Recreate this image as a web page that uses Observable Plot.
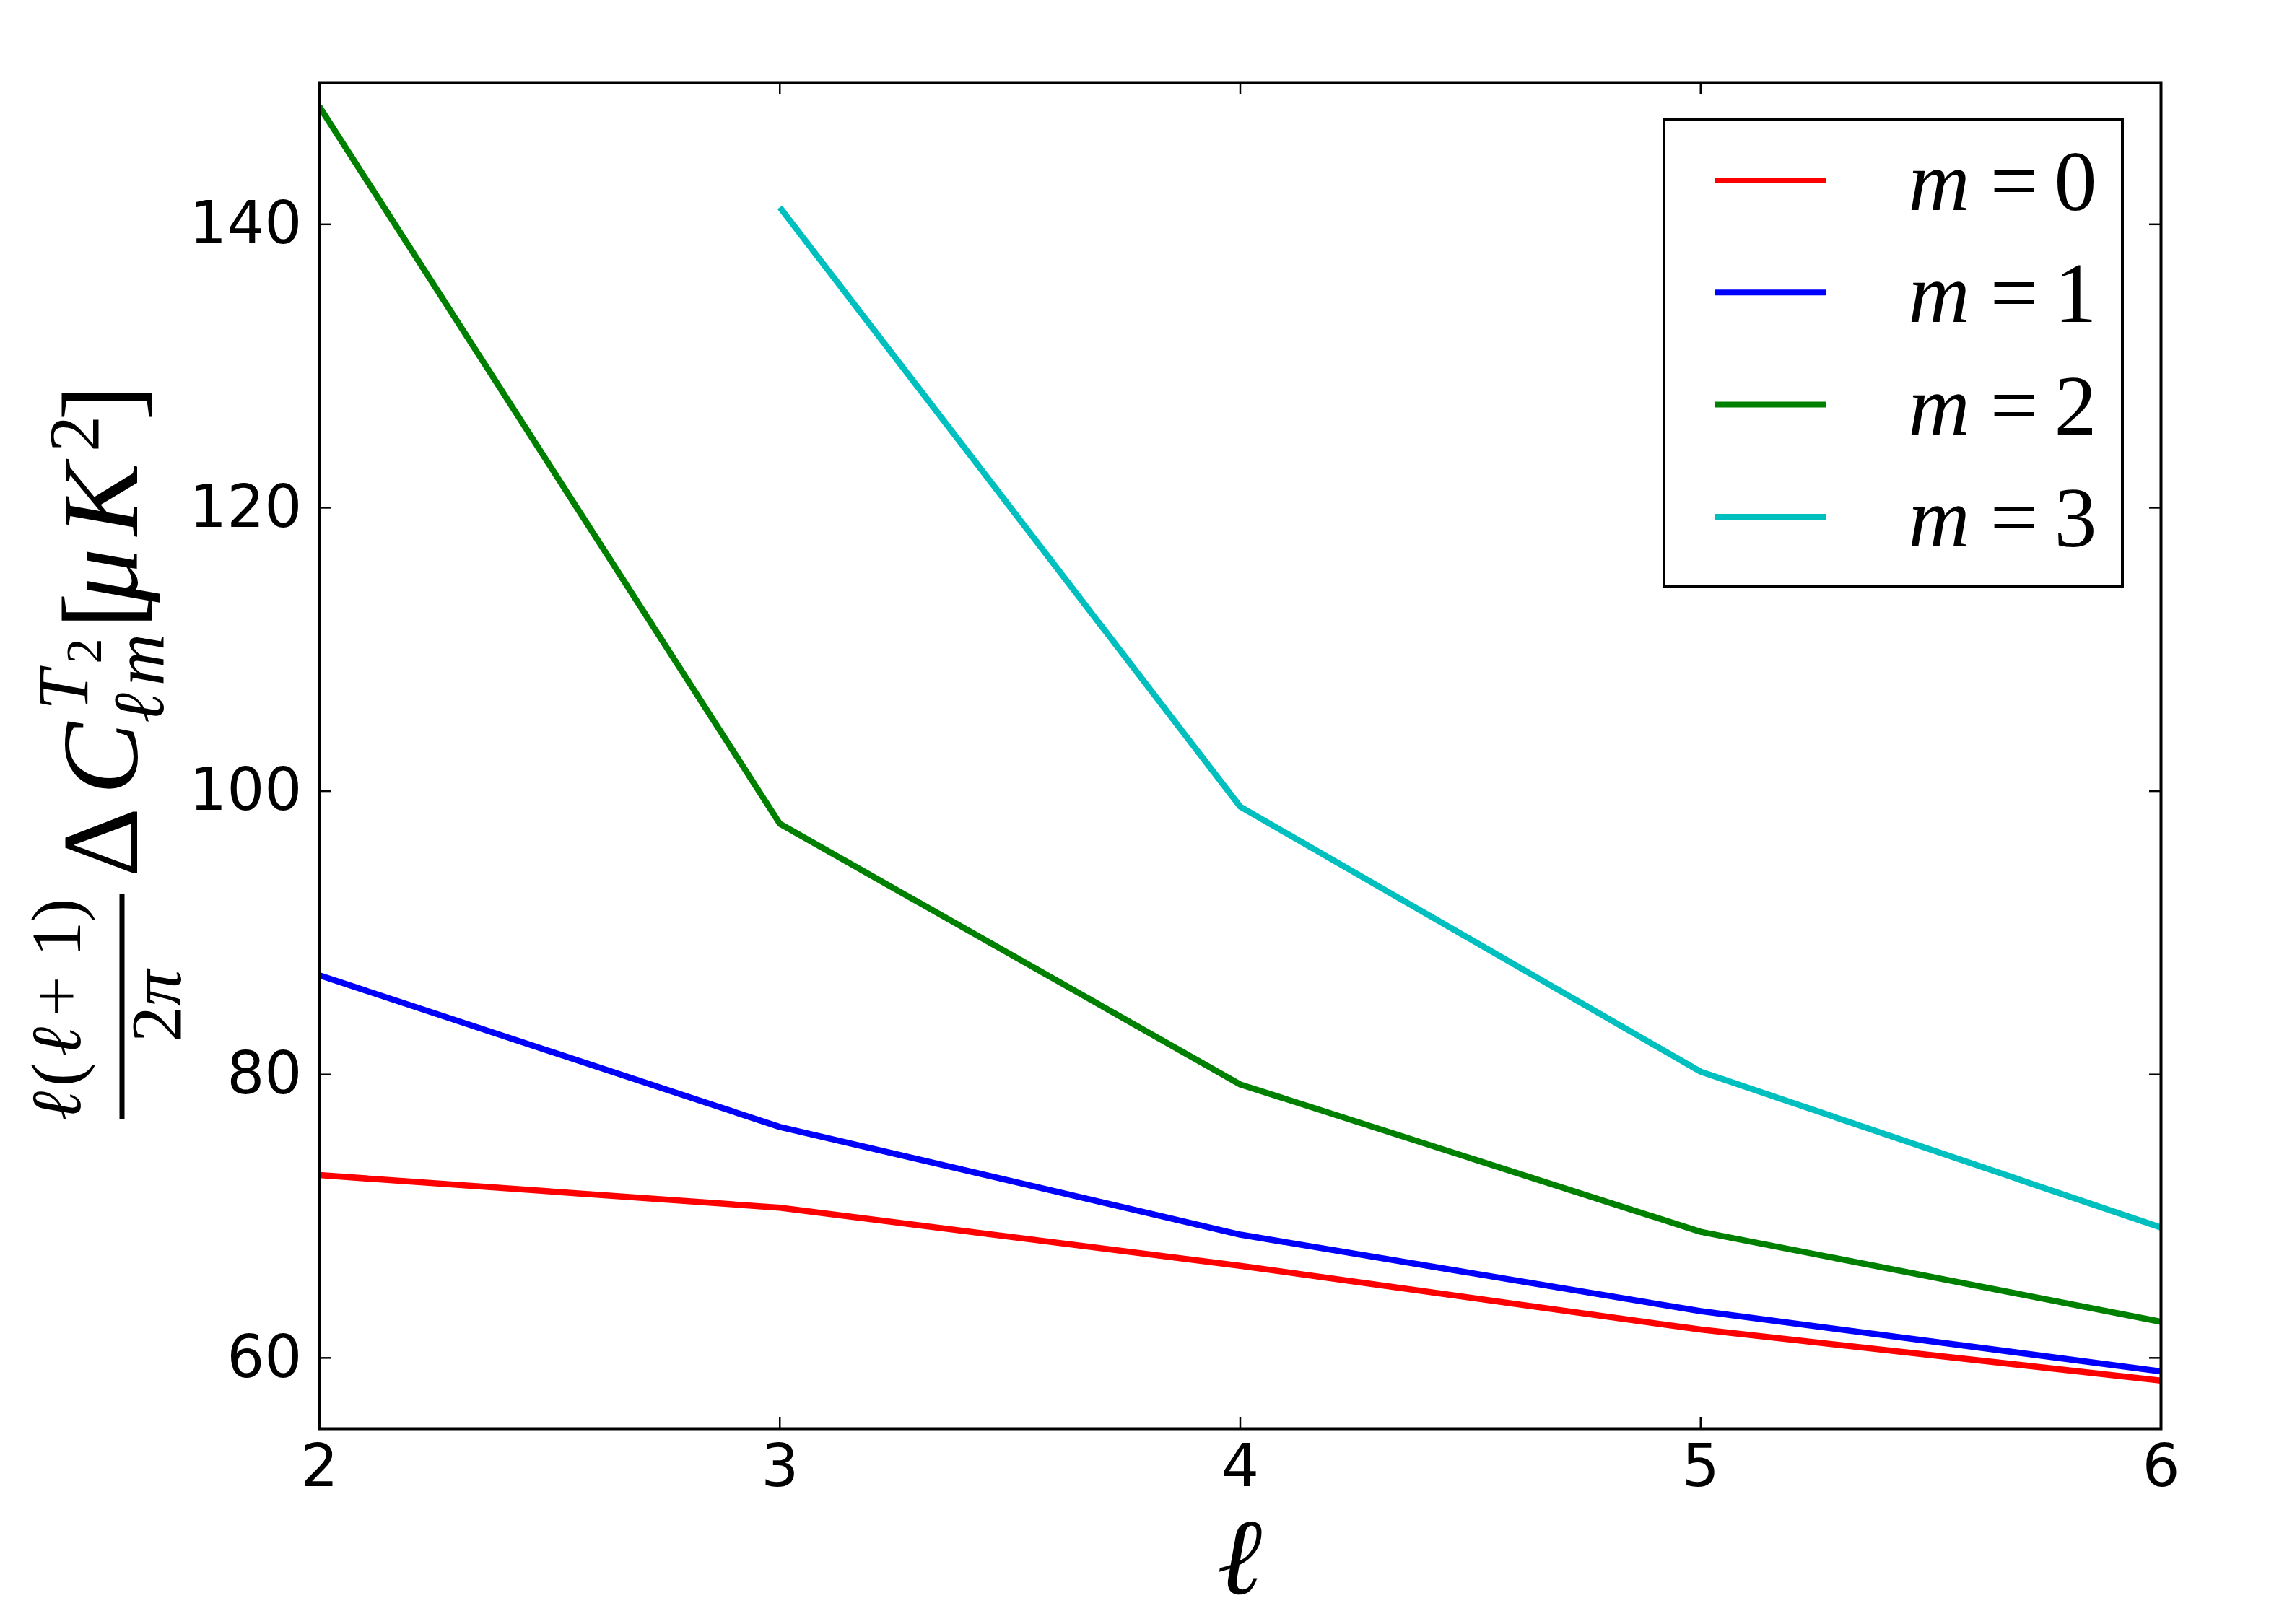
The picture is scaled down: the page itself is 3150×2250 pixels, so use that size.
<!DOCTYPE html>
<html><head><meta charset="utf-8">
<script src="https://cdn.jsdelivr.net/npm/d3@7"></script>
<script src="https://cdn.jsdelivr.net/npm/@observablehq/plot@0.6"></script>
<style>html,body{margin:0;padding:0;background:#fff}</style>
</head><body><div id="chart"></div>
<script>
// ---- data ----
const ells = [2, 3, 4, 5, 6];
const m0 = [72.9, 70.6, 66.5, 62.0, 58.4];
const m1 = [87.0, 76.3, 68.7, 63.3, 59.05];
const m2 = [148.3, 97.7, 79.3, 68.9, 62.55];
const m3 = [null, 141.2, 98.9, 80.2, 69.2];
const seriesNames = ["m = 0", "m = 1", "m = 2", "m = 3"];
const seriesColors = ["#ff0000", "#0000ff", "#008000", "#00bfbf"];
const xTicks = [2, 3, 4, 5, 6];
const yTicks = [60, 80, 100, 120, 140];
const xDomain = [2, 6];
const yDomain = [55, 150];

const rows = [];
[m0, m1, m2, m3].forEach((vals, i) => vals.forEach((v, j) => {
  if (v != null) rows.push({ell: ells[j], v, s: seriesNames[i]});
}));

const W = 3150, H = 2250, mL = 442, mR = 157, mT = 114, mB = 271;
const pw = W - mL - mR, ph = H - mT - mB;
const tickLen = 16;

const chart = Plot.plot({
  width: W, height: H,
  marginLeft: mL, marginRight: mR, marginTop: mT, marginBottom: mB,
  x: {domain: xDomain},
  y: {domain: yDomain},
  color: {domain: seriesNames, range: seriesColors},
  style: {background: "white", fontFamily: "DejaVu Sans", color: "black"},
  marks: [
    Plot.line(rows, {x: "ell", y: "v", stroke: "s", z: "s", strokeWidth: 8.5, clip: true,
                     strokeLinejoin: "round", strokeLinecap: "butt"}),
    Plot.tickX(xTicks, {x: d => d, insetTop: ph - tickLen, stroke: "black", strokeWidth: 2.5}),
    Plot.tickX(xTicks, {x: d => d, insetBottom: ph - tickLen, stroke: "black", strokeWidth: 2.5}),
    Plot.tickY(yTicks, {y: d => d, insetRight: pw - tickLen, stroke: "black", strokeWidth: 2.5}),
    Plot.tickY(yTicks, {y: d => d, insetLeft: pw - tickLen, stroke: "black", strokeWidth: 2.5}),
    Plot.frame({stroke: "black", strokeWidth: 4}),
    Plot.axisX({ticks: xTicks, tickFormat: d3.format("d"), tickSize: 0, tickPadding: 21, fontSize: 82, label: null}),
    Plot.axisY({ticks: yTicks, tickFormat: d3.format("d"), tickSize: 0, tickPadding: 24, fontSize: 82, label: null})
  ]
});
document.getElementById("chart").appendChild(chart);
const svgEl = chart.tagName.toLowerCase() === "svg" ? chart : chart.querySelector("svg");
const svg = d3.select(svgEl);

function txt(g, x, y, size, str, italic) {
  return g.append("text").attr("x", x).attr("y", y).attr("text-anchor", "middle")
    .attr("font-family", "Liberation Serif").attr("font-size", size)
    .attr("font-style", italic ? "italic" : "normal").attr("fill", "black").text(str);
}

// ---- legend ----
const lg = svg.append("g");
lg.append("rect").attr("x", 2305).attr("y", 165).attr("width", 635).attr("height", 647)
  .attr("fill", "white").attr("stroke", "black").attr("stroke-width", 4);
seriesNames.forEach((n, i) => {
  const cy = 250 + i * 155.3;
  lg.append("line").attr("x1", 2375).attr("x2", 2529).attr("y1", cy).attr("y2", cy)
    .attr("stroke", seriesColors[i]).attr("stroke-width", 8);
  const parts = n.split(" ");
  txt(lg, 2686, cy + 41, 118, parts[0], true);
  txt(lg, 2790, cy + 41, 118, parts[1], false);
  txt(lg, 2875, cy + 41, 118, parts[2], false);
});

// ---- x label ----
txt(svg, 1717, 2208, 150, "ℓ", true);

// ---- y label (rotated math) ----
const yl = svg.append("g").attr("transform", "translate(0,1551) rotate(-90)");
// numerator l(l+1)
txt(yl, 19, 111, 98, "ℓ", true);
txt(yl, 62, 111, 98, "(", false);
txt(yl, 108, 111, 98, "ℓ", true);
txt(yl, 171, 111, 98, "+", false);
txt(yl, 250, 111, 98, "1", false);
txt(yl, 290, 111, 98, ")", false);
yl.append("line").attr("x1", 0).attr("x2", 312).attr("y1", 169).attr("y2", 169)
  .attr("stroke", "black").attr("stroke-width", 7);
// denominator 2π
txt(yl, 132, 250, 100, "2", false);
txt(yl, 182, 250, 100, "π", true);
// ΔC
txt(yl, 384, 190, 150, "Δ", false);
txt(yl, 500, 190, 150, "C", true);
txt(yl, 595, 121, 100, "T", true);
txt(yl, 649, 140, 70, "2", false);
txt(yl, 570, 226, 100, "ℓ", true);
txt(yl, 637, 226, 100, "m", true);
// [μK²]
txt(yl, 705, 190, 150, "[", false);
txt(yl, 754, 190, 150, "μ", true);
txt(yl, 859, 190, 150, "K", true);
txt(yl, 950, 136, 100, "2", false);
txt(yl, 993, 190, 150, "]", false);
</script>
</body></html>
